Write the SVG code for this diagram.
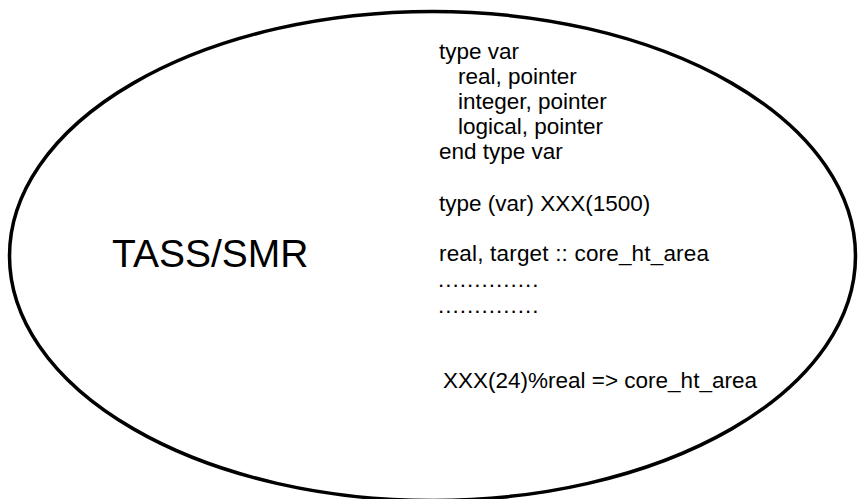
<svg xmlns="http://www.w3.org/2000/svg" width="866" height="499" viewBox="0 0 866 499">
<style>
.t{font-family:"Liberation Sans",Arial,sans-serif;font-size:22.5px;fill:#000}
.big{font-family:"Liberation Sans",Arial,sans-serif;font-size:39px;fill:#000}
</style>
<rect width="866" height="499" fill="#fff"/>
<g id="tass-smr">
<ellipse cx="432.5" cy="256" rx="423" ry="244.5" fill="none" stroke="#000" stroke-width="3.5"/>
<text class="big" x="112" y="267">TASS/SMR</text>
</g>
<g id="code">
<text class="t" x="439" y="59">type var</text>
<text class="t" x="458" y="84">real, pointer</text>
<text class="t" x="458" y="109">integer, pointer</text>
<text class="t" x="458" y="134">logical, pointer</text>
<text class="t" x="439" y="159">end type var</text>
<text class="t" x="439" y="211">type (var) XXX(1500)</text>
<text class="t" x="439" y="261" textLength="270">real, target :: core_ht_area</text>
<text class="t" x="438" y="287" letter-spacing="1">..............</text>
<text class="t" x="438" y="313" letter-spacing="1">..............</text>
<text class="t" x="443" y="388">XXX(24)%real =&gt; core_ht_area</text>
</g>
</svg>
